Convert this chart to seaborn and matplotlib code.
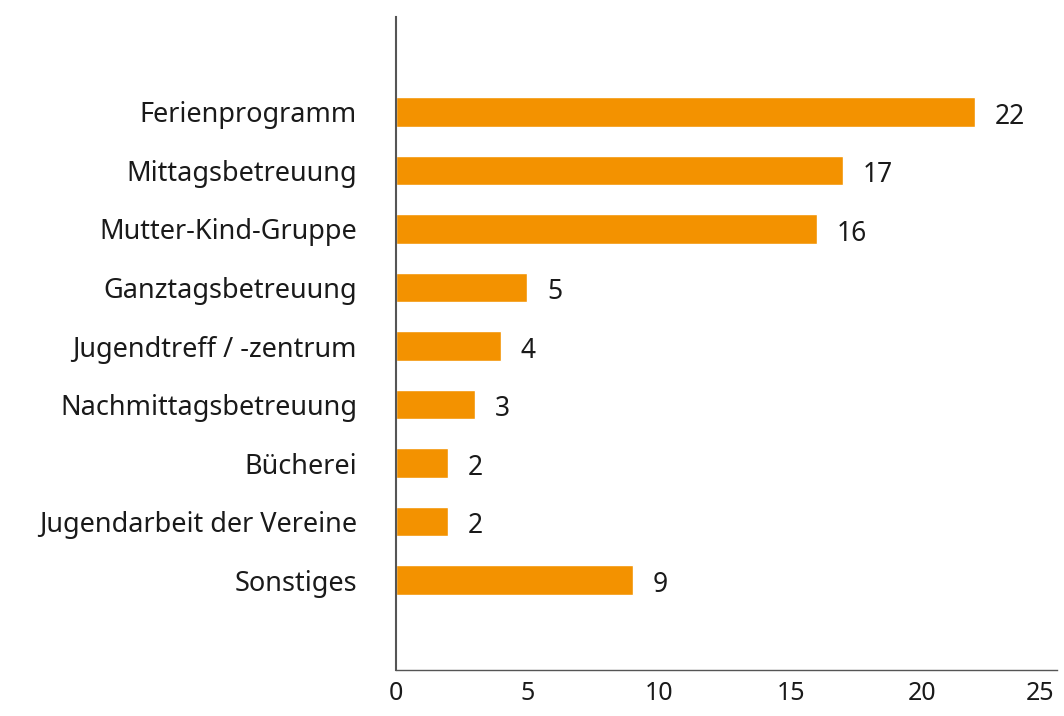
import numpy as np
import pandas as pd
import matplotlib
matplotlib.use("Agg")
import matplotlib.pyplot as plt
import seaborn as sns

# Data
categories = [
    "Ferienprogramm",
    "Mittagsbetreuung",
    "Mutter-Kind-Gruppe",
    "Ganztagsbetreuung",
    "Jugendtreff / -zentrum",
    "Nachmittagsbetreuung",
    "Bücherei",
    "Jugendarbeit der Vereine",
    "Sonstiges",
]
counts = [22, 17, 16, 5, 4, 3, 2, 2, 9]
x_ticks = [0, 5, 10, 15, 20, 25]

sns.set_theme(style="white")
plt.rcParams['font.family'] = ['Noto Sans', 'DejaVu Sans']

df = pd.DataFrame({"Kategorie": categories, "Anzahl": counts})

fig = plt.figure(figsize=(10.64, 7.16), dpi=100)
ax = fig.add_axes([0.372, 0.064, 0.621, 0.912])

sns.barplot(data=df, y="Kategorie", x="Anzahl", color="#F39200",
            saturation=1, width=0.51, orient="h", ax=ax)

# value labels to the right of each bar
for i, v in enumerate(counts):
    ax.text(v + 0.75, i + 0.08, str(v), va="center", ha="left",
            fontsize=19, color="#1a1a1a")

ax.set_xlim(0, 25.1)
ax.set_ylim(len(categories) - 1 + 1.54, -1.62)
ax.set_xticks(x_ticks)
ax.set_xticklabels([str(t) for t in x_ticks])
# keep the last label inside the figure
ax.get_xticklabels()[-1].set_horizontalalignment("right")
ax.set_xlabel("")
ax.set_ylabel("")

ax.tick_params(axis="x", direction="in", length=14, width=1, color="#555555",
               labelsize=18, pad=8, labelcolor="#1a1a1a")
ax.tick_params(axis="y", length=0, labelsize=19.5, pad=28, labelcolor="#1a1a1a")

for side in ["top", "right"]:
    ax.spines[side].set_visible(False)
ax.spines["left"].set_color("#555555")
ax.spines["left"].set_linewidth(1.5)
ax.spines["bottom"].set_color("#555555")
ax.spines["bottom"].set_linewidth(1)

plt.savefig("out.png", dpi=100)
plt.close()
